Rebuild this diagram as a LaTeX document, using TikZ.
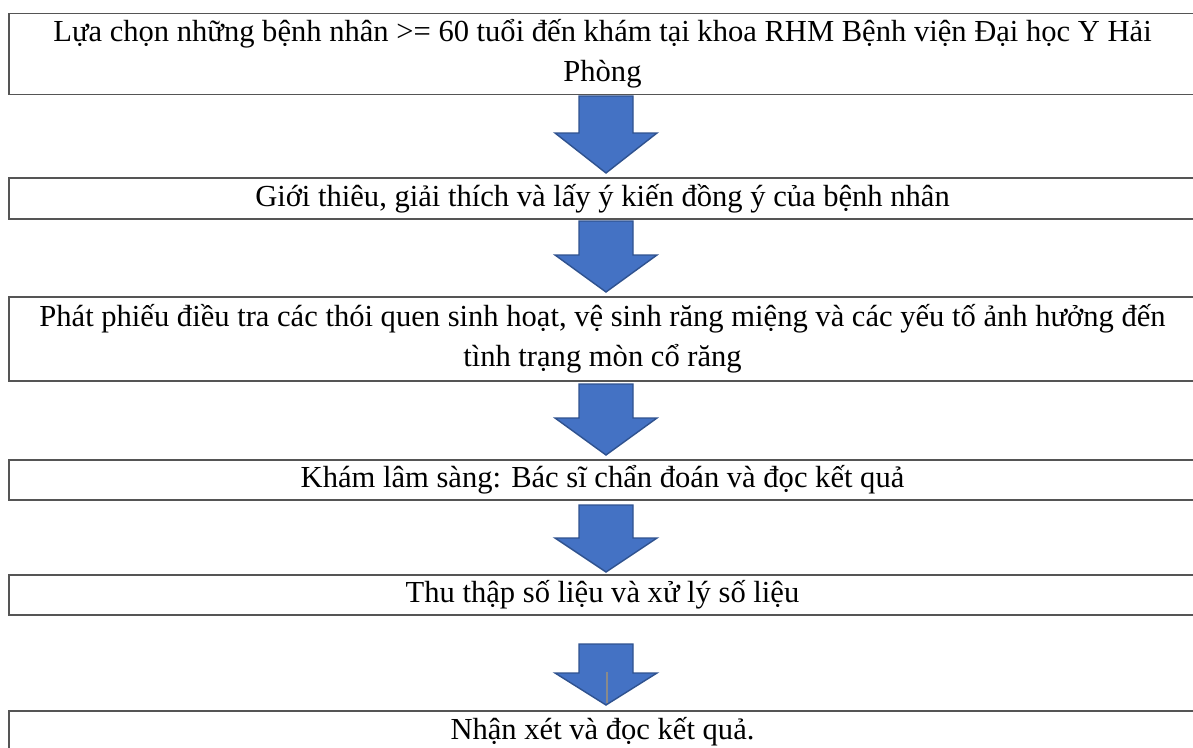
\documentclass[tikz,border=0pt]{standalone}
\usepackage{fontspec}
\setmainfont{Liberation Serif}
\usetikzlibrary{calc,positioning}
\definecolor{Frame}{HTML}{555555}
\definecolor{ArrowFill}{HTML}{4472C4}
\definecolor{ArrowLine}{HTML}{2F528F}
\definecolor{Seam}{HTML}{8A8A8A}

\begin{document}
\begin{tikzpicture}[x=0.02cm,y=-0.02cm,
  stepbox/.style={rectangle,draw=Frame,line width=0.9pt,minimum width=23.74cm,inner sep=0pt,align=center,font=\fontsize{17.4}{22.7}\selectfont},
  blockarrow/.style={fill=ArrowFill,draw=ArrowLine,line width=0.8pt,line join=miter}
]
\useasboundingbox (0,0) rectangle (1193,747);
\clip (0,0) rectangle (1193,747);
\node[stepbox,minimum height=1.62cm] (lua) at (602.5,54) {Lựa chọn những bệnh nhân >= 60 tuổi đến khám tại khoa RHM Bệnh viện Đại học Y Hải\\Phòng};
\node[stepbox,minimum height=0.82cm] (gioi) at (602.5,198.5) {Giới thiêu, giải thích và lấy ý kiến đồng ý của bệnh nhân};
\node[stepbox,minimum height=1.68cm] (phat) at (602.5,339) {Phát phiếu điều tra các thói quen sinh hoạt, vệ sinh răng miệng và các yếu tố ảnh hưởng đến\\tình trạng mòn cổ răng};
\node[stepbox,minimum height=0.80cm] (kham) at (602.5,480) {Khám lâm sàng: Bác sĩ chẩn đoán và đọc kết quả};
\node[stepbox,minimum height=0.80cm] (thu) at (602.5,595) {Thu thập số liệu và xử lý số liệu};
\node[stepbox,minimum height=0.82cm] (nhan) at (602.5,731.5) {Nhận xét và đọc kết quả.};
% block arrows between the steps
\draw[blockarrow] (579,96) -- (633,96) -- (633,133) -- (657,133) -- (606,173) -- (555,133) -- (579,133) -- cycle;
\draw[blockarrow] (579,221) -- (633,221) -- (633,255) -- (657,255) -- (606,292) -- (555,255) -- (579,255) -- cycle;
\draw[blockarrow] (579,384) -- (633,384) -- (633,418) -- (657,418) -- (606,455) -- (555,418) -- (579,418) -- cycle;
\draw[blockarrow] (579,505) -- (633,505) -- (633,538) -- (657,538) -- (606,572) -- (555,538) -- (579,538) -- cycle;
\draw[blockarrow] (579,644) -- (633,644) -- (633,673) -- (657,673) -- (606,705) -- (555,673) -- (579,673) -- cycle;
\draw[draw=Seam,line width=0.6pt] (607,672) -- (607,703);
\end{tikzpicture}
\end{document}
